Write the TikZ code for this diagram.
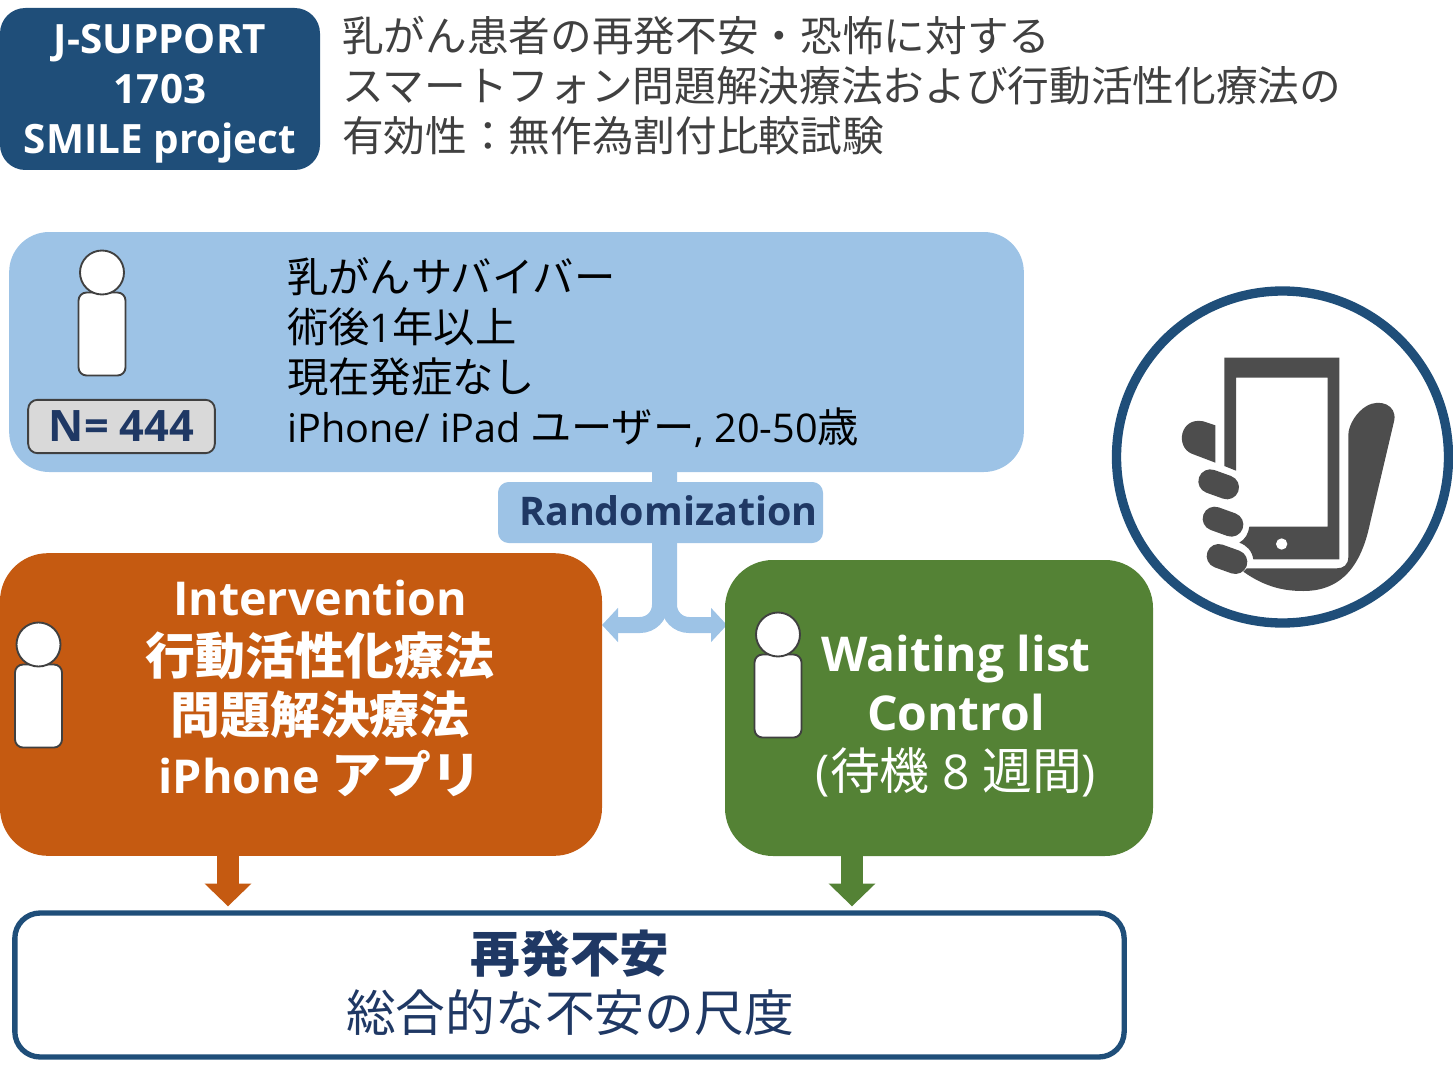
\documentclass[tikz,border=0pt]{standalone}
\usepackage{fontspec}
\setmainfont{Open Sans}
\newfontfamily\jpf{Noto Sans CJK JP}
\usetikzlibrary{arrows.meta}
\definecolor{titleblue}{HTML}{1F4E79}
\definecolor{lightblue}{HTML}{9DC3E6}
\definecolor{navy}{HTML}{1F3864}
\definecolor{rust}{HTML}{C55A11}
\definecolor{leaf}{HTML}{548235}
\definecolor{iconGray}{HTML}{4D4D4D}
\definecolor{edgeGray}{HTML}{404040}
\newcommand{\lat}[1]{{\fontsize{29.7}{37.5}\selectfont\rmfamily #1}}
\newcommand{\jpbig}[1]{{\fontsize{37.4}{44.5}\selectfont\jpf #1}}
\tikzset{
	panel/.style={rectangle,inner sep=0pt,outer sep=0pt},
	person/.pic={
		\draw[edgeGray,fill=white,line width=1.4pt,rounded corners=6pt] (-23.5,20) rectangle (23.5,103);
		\draw[edgeGray,fill=white,line width=1.4pt] (0,0) circle (22);
	},
	splitarrow/.style={lightblue,line width=12pt,rounded corners=15pt,-{Triangle[length=12pt,width=25pt]}},
	downarrow/.style={line width=17pt,-{Triangle[length=17pt,width=34pt]},shorten >=5pt},
	bigtext/.style={align=center,font=\fontsize{36}{44.5}\selectfont,inner sep=0pt}
}
\begin{document}
\begin{tikzpicture}[x=0.75pt,y=-0.75pt]
	\useasboundingbox (0,0) rectangle (1453,1077);
	\node[panel,fill=titleblue,rounded corners=19pt,minimum width=240pt,minimum height=121.5pt] (project) at (160,89) {};
	\node[inner sep=0pt,text=white,align=center,font=\fontsize{30.3}{37.5}\selectfont\bfseries] (projecttext) at (160,94) {J-SUPPORT\\1703\\SMILE project};
	\node[inner sep=0pt,anchor=west,align=left,text=edgeGray,font=\fontsize{31.25}{37.5}\selectfont\jpf] (title) at (342,86) {乳がん患者の再発不安・恐怖に対する\\スマートフォン問題解決療法および行動活性化療法の\\有効性：無作為割付比較試験};

	\node[panel,fill=lightblue,rounded corners=30pt,minimum width=761pt,minimum height=180pt] (survivor) at (516.5,352) {};
	\coordinate (stemL) at (660,472);
	\coordinate (stemR) at (669,472);
	\coordinate (tipL) at (602,625);
	\coordinate (tipR) at (727,625);
	\draw[splitarrow] (stemL) |- (tipL);
	\draw[splitarrow] (stemR) |- (tipR);
	\node[panel,fill=lightblue,rounded corners=8pt,minimum width=243.75pt,minimum height=45.75pt] (random) at (660.5,512.5) {};
	\node[inner sep=0pt,text=navy,font=\fontsize{29.6}{37.5}\selectfont\bfseries] (randomtext) at (668.5,511) {Randomization};

	\pic at (102,272.5) {person};
	\node[panel,draw=edgeGray,line width=1.4pt,fill=black!15,rounded corners=7pt,minimum width=140pt,minimum height=40pt,text=navy,font=\fontsize{32.5}{38}\selectfont\bfseries] (count) at (121.5,426.5) {N= 444};
	\node[inner sep=0pt,anchor=west,align=left,text=black,font=\fontsize{31}{37.5}\selectfont\jpf] (criteria) at (287,353) {乳がんサバイバー\\術後\lat{1}年以上\\現在発症なし\\\lat{iPhone/ iPad} ユーザー\lat{, 20-50}歳};

	\node[panel,fill=rust,rounded corners=36pt,minimum width=451.5pt,minimum height=227pt] (intervention) at (301,704.5) {};
	\pic at (38.5,644.5) {person};
	\node[bigtext,text=white,font=\fontsize{35}{44.5}\selectfont\bfseries] (interventiontext) at (320,688) {Intervention\\\jpbig{行動活性化療法}\\\jpbig{問題解決療法}\\iPhone \jpbig{アプリ}};

	\node[panel,fill=leaf,rounded corners=36pt,minimum width=321pt,minimum height=222pt] (waiting) at (939,708) {};
	\pic at (778,634.5) {person};
	\node[bigtext,text=white] (waitingtext) at (956,716) {\textbf{Waiting list}\\\textbf{Control}\\(\jpbig{待機} 8 \jpbig{週間})};

	\node[panel,draw=titleblue,line width=4pt,fill=white,rounded corners=19pt,minimum width=832pt,minimum height=108pt] (outcome) at (569.5,985) {};
	\node[bigtext,text=navy,font=\fontsize{37.3}{44.5}\selectfont\jpf] (outcometext) at (570,983) {\textbf{再発不安}\\総合的な不安の尺度};

	\coordinate (armI) at (228,856);
	\coordinate (armW) at (852,856);
	\draw[downarrow,rust] (armI) -- (armI |- outcome.north);
	\draw[downarrow,leaf] (armW) -- (armW |- outcome.north);

	\node[circle,draw=titleblue,line width=7pt,fill=white,minimum size=249pt,inner sep=0pt,outer sep=0pt] (appcircle) at (1282.5,457) {};
	\begin{scope}[shift={(1110,280)},x=0.25pt,y=-0.25pt]
		\fill[iconGray] (343,233) -- (688,233) -- (688,838) -- (430,838) .. controls (426,812) and (410,796) .. (388,788) .. controls (405,778) and (415,762) .. (418,740) -- (653,740) -- (653,293) -- (378,293) -- (378,572) -- (343,558) -- cycle;
		\fill[white] (515,792) circle (17);
		\fill[iconGray] (316,436) -- (316,548) -- (245,521) .. controls (195,500) and (210,410) .. (280,424) -- cycle;
		\foreach \fx/\fy in {326/613,339/725,351/837}
			\draw[iconGray,line width=18pt,line cap=round] (\fx-25,\fy-9) -- (\fx+25,\fy+9);
		\fill[iconGray] (400,875) .. controls (470,925) and (530,933) .. (580,933) .. controls (700,933) and (755,850) .. (780,730) -- (853,420) .. controls (860,375) and (810,355) .. (770,378) .. controls (740,395) and (715,435) .. (715,465) -- (715,830) .. controls (715,855) and (700,865) .. (680,865) -- (410,865) -- cycle;
	\end{scope}
\end{tikzpicture}
\end{document}
